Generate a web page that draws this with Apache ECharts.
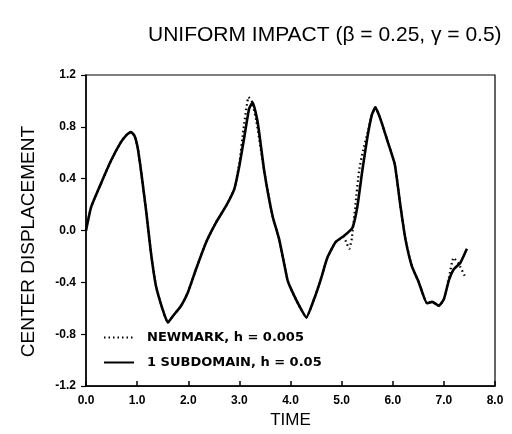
<!DOCTYPE html>
<html>
<head>
<meta charset="utf-8">
<script src="https://cdn.jsdelivr.net/npm/echarts@6/dist/echarts.min.js"></script>
<style>html,body{margin:0;padding:0;background:#fff;}#c{width:512px;height:434px;}</style>
</head>
<body>
<div id="c"></div>
<script>
var titleText = 'UNIFORM IMPACT (\u03B2 = 0.25, \u03B3 = 0.5)';
var xName = 'TIME';
var yName = 'CENTER DISPLACEMENT';
var seriesNames = ['NEWMARK, h = 0.005', '1 SUBDOMAIN, h = 0.05'];
var xTickLabels = ['0.0','1.0','2.0','3.0','4.0','5.0','6.0','7.0','8.0'];
var yTickLabels = {'-1.2':'-1.2','-0.8':'-0.8','-0.4':'-0.4','0':'0.0','0.4':'0.4','0.8':'0.8','1.2':'1.2'};

// 1 subdomain, h = 0.05 (solid)
var subTime = [0.00,0.10,0.29,0.49,0.68,0.80,0.88,0.95,1.01,1.08,1.18,1.27,1.37,1.50,1.60,1.70,1.86,1.99,2.15,2.35,2.54,2.74,2.90,3.00,3.10,3.19,3.26,3.36,3.49,3.65,3.78,3.94,4.01,4.17,4.31,4.46,4.59,4.72,4.88,5.05,5.21,5.31,5.40,5.50,5.59,5.66,5.76,5.89,6.04,6.15,6.25,6.37,6.51,6.67,6.77,6.90,7.00,7.10,7.19,7.32,7.45];
var subDisp = [0.00,0.18,0.36,0.54,0.68,0.74,0.76,0.73,0.64,0.45,0.14,-0.17,-0.43,-0.61,-0.71,-0.66,-0.58,-0.48,-0.30,-0.09,0.06,0.19,0.32,0.50,0.73,0.94,0.99,0.83,0.45,0.11,-0.07,-0.38,-0.45,-0.58,-0.67,-0.53,-0.38,-0.21,-0.09,-0.04,0.02,0.19,0.45,0.71,0.89,0.95,0.86,0.70,0.51,0.19,-0.07,-0.27,-0.40,-0.56,-0.55,-0.58,-0.53,-0.38,-0.30,-0.25,-0.14];

// Newmark, h = 0.005 (dotted)
var nmTime = [0.00,0.10,0.29,0.49,0.68,0.80,0.88,0.95,1.01,1.08,1.18,1.27,1.37,1.50,1.60,1.70,1.86,1.99,2.15,2.35,2.54,2.74,2.90,3.00,3.08,3.18,3.24,3.33,3.49,3.65,3.78,3.94,4.01,4.17,4.31,4.46,4.59,4.72,4.88,5.04,5.10,5.15,5.20,5.27,5.34,5.42,5.50,5.59,5.66,5.76,5.89,6.04,6.15,6.25,6.37,6.51,6.67,6.77,6.90,7.00,7.10,7.19,7.28,7.42];
var nmDisp = [0.00,0.18,0.36,0.54,0.68,0.74,0.76,0.73,0.64,0.45,0.14,-0.17,-0.43,-0.61,-0.71,-0.66,-0.58,-0.48,-0.30,-0.09,0.06,0.19,0.32,0.52,0.78,1.03,1.00,0.85,0.45,0.11,-0.07,-0.38,-0.45,-0.58,-0.67,-0.53,-0.38,-0.21,-0.09,-0.05,-0.10,-0.14,-0.06,0.20,0.46,0.62,0.74,0.89,0.95,0.86,0.70,0.51,0.19,-0.07,-0.27,-0.40,-0.56,-0.55,-0.58,-0.53,-0.36,-0.21,-0.25,-0.36];

function pairs(xs, ys){ return xs.map(function(x,i){ return [x, ys[i]]; }); }

var chart = echarts.init(document.getElementById('c'), null, {renderer:'canvas'});
var tickFont = {color:'#000', fontFamily:'Liberation Sans', fontWeight:'bold', fontSize:12};
chart.setOption({
  animation:false,
  backgroundColor:'#fff',
  title:{text:titleText, left:143, top:20, textStyle:{fontFamily:'Liberation Sans', fontWeight:'normal', fontSize:21, color:'#000'}},
  grid:{left:86, right:17, top:75, bottom:45, show:true, borderColor:'#000', borderWidth:1.2},
  legend:{
    orient:'vertical', left:98, top:326, itemGap:12, itemWidth:30, itemHeight:12,
    itemStyle:{opacity:0},
    textStyle:{color:'#000', fontFamily:'DejaVu Sans', fontWeight:'bold', fontSize:13, padding:[0,0,0,8]},
    data:seriesNames
  },
  xAxis:{
    type:'value', min:0, max:8, interval:1,
    name:xName, nameLocation:'middle', nameGap:25,
    nameTextStyle:{color:'#000', fontFamily:'Liberation Sans', fontSize:17},
    axisLine:{show:true, onZero:false, lineStyle:{color:'#000', width:1.5}},
    axisTick:{show:true, inside:true, length:5, lineStyle:{color:'#000', width:1.5}},
    splitLine:{show:false},
    axisLabel:Object.assign({margin:9, formatter:function(v){ return xTickLabels[Math.round(v)]; }}, tickFont)
  },
  yAxis:{
    type:'value', min:-1.2, max:1.2, interval:0.4,
    name:yName, nameLocation:'middle', nameGap:48,
    nameTextStyle:{color:'#000', fontFamily:'Liberation Sans', fontSize:19, padding:[0,22,0,0]},
    axisLine:{show:true, onZero:false, lineStyle:{color:'#000', width:1.5}},
    axisTick:{show:true, inside:false, length:5, lineStyle:{color:'#000', width:1.2}},
    splitLine:{show:false},
    axisLabel:Object.assign({margin:10, formatter:function(v){ var k = (Math.round(v*10)/10).toString(); return yTickLabels[k] !== undefined ? yTickLabels[k] : v.toFixed(1); }}, tickFont)
  },
  series:[
    {name:seriesNames[0], type:'line', data:pairs(nmTime, nmDisp), showSymbol:false, symbol:'none', smooth:0.15,
     lineStyle:{color:'#000', width:2.2, type:[1.5,3]}, itemStyle:{color:'#000'}, z:2},
    {name:seriesNames[1], type:'line', data:pairs(subTime, subDisp), showSymbol:false, symbol:'none', smooth:0.15,
     lineStyle:{color:'#000', width:2.6, type:'solid'}, itemStyle:{color:'#000'}, z:3}
  ]
});
</script>
</body>
</html>
